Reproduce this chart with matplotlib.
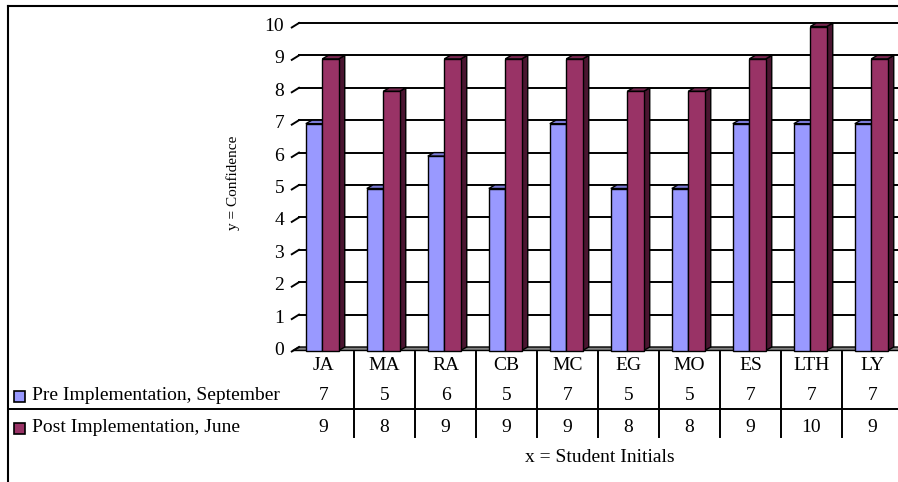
import matplotlib
matplotlib.use("Agg")
import matplotlib.pyplot as plt
from matplotlib import transforms
from matplotlib.patches import Polygon, Rectangle
from matplotlib.lines import Line2D

# ---- data ---------------------------------------------------------------
students = ["JA", "MA", "RA", "CB", "MC", "EG", "MO", "ES", "LTH", "LY"]
pre_september = [7, 5, 6, 5, 7, 5, 5, 7, 7, 7]
post_june = [9, 8, 9, 9, 9, 8, 8, 9, 10, 9]
series_names = ["Pre Implementation, September", "Post Implementation, June"]
y_ticks = list(range(0, 11))

# ---- style --------------------------------------------------------------
FONT = "Liberation Serif"
FS = 14
W, H = 898, 482
face_colors = [("#9999FF", "#7B7BD6", "#4D4D99"),   # front, top, side
               ("#993366", "#7A2952", "#4A1530")]

fig = plt.figure(figsize=(W / 100, H / 100), dpi=100)
fig.patch.set_facecolor("white")

# pixel transform with origin at the top-left corner of the figure
px = transforms.Affine2D().scale(1 / W, -1 / H).translate(0, 1) + fig.transFigure

# plot area (front plane): x = category index, y = confidence value
left_px, right_px = 293, 903
y0_px, y10_px = 350.5, 26.5
ax = fig.add_axes([left_px / W, (H - y0_px) / H,
                   (right_px - left_px) / W, (y0_px - y10_px) / H])
n = len(students)
ax.set_xlim(-0.5, n - 0.5)
ax.set_ylim(0, 10)
ax.axis("off")

cat_px = (right_px - left_px) / n
val_px = (y0_px - y10_px) / 10
dxd = 6.0 / cat_px      # depth offset, in data units
dyd = 3.5 / val_px

# back-wall gridlines and left-wall edges
for v in y_ticks[1:]:
    ax.add_line(Line2D([-0.5 + dxd, n + 1], [v + dyd, v + dyd], color="black",
                       lw=1.4, clip_on=False, zorder=1))
    ax.add_line(Line2D([-0.5 - 0.02, -0.5 + dxd], [v - 0.03, v + dyd],
                       color="black", lw=1.4, clip_on=False, zorder=1))

# floor
ax.add_patch(Polygon([(-0.5, 0), (n + 1, 0), (n + 1 + dxd, dyd), (-0.5 + dxd, dyd)],
                     closed=True, facecolor="#808080", edgecolor="black",
                     lw=1.0, clip_on=False, zorder=1))
ax.add_line(Line2D([-0.5 - 0.02, -0.5 + dxd], [-0.03, dyd], color="black",
                   lw=1.4, clip_on=False, zorder=1))

# y tick labels
tick_tr = transforms.offset_copy(ax.transData, fig=fig, x=-9, y=0, units="dots")
for v in y_ticks:
    ax.text(-0.5, v, str(v), transform=tick_tr, ha="right", va="center",
            fontsize=FS, family=FONT, clip_on=False)

# 3-D columns
bar_w = 0.27
offsets = [-0.29, -0.02]


def column(x0, h, colors, z):
    front, top, side = colors
    x1 = x0 + bar_w
    ax.add_patch(Polygon([(x1, 0), (x1 + dxd, dyd), (x1 + dxd, h + dyd), (x1, h)],
                         closed=True, facecolor=side, edgecolor="black",
                         lw=1.0, clip_on=False, zorder=z))
    ax.add_patch(Polygon([(x0, h), (x1, h), (x1 + dxd, h + dyd), (x0 + dxd, h + dyd)],
                         closed=True, facecolor=top, edgecolor="black",
                         lw=1.0, clip_on=False, zorder=z))
    ax.add_patch(Rectangle((x0, 0), bar_w, h, facecolor=front, edgecolor="black",
                           lw=1.0, clip_on=False, zorder=z))


for i in range(n):
    for k, values in enumerate([pre_september, post_june]):
        column(i + offsets[k], values[i], face_colors[k], 2 + 0.1 * i + 0.01 * k)

# y axis title
fig.text(233 / W, 1 - 183 / H, "y = Confidence", rotation=90, ha="center",
         va="center", fontsize=11, family=FONT)

# ---- data table ---------------------------------------------------------
tbl = transforms.blended_transform_factory(ax.transData, px)
row_y = [366, 396, 428]
for i, name in enumerate(students):
    ax.text(i, row_y[0], name, transform=tbl, ha="center", va="center",
            fontsize=FS, family=FONT, clip_on=False)
    ax.text(i, row_y[1], str(pre_september[i]), transform=tbl, ha="center",
            va="center", fontsize=FS, family=FONT, clip_on=False)
    ax.text(i, row_y[2], str(post_june[i]), transform=tbl, ha="center",
            va="center", fontsize=FS, family=FONT, clip_on=False)
for i in range(n):
    ax.add_line(Line2D([i + 0.5, i + 0.5], [352, 437], transform=tbl,
                       color="black", lw=1.4, clip_on=False))
fig.add_artist(Line2D([8, W], [409, 409], transform=px, color="black", lw=1.4))

# legend keys in the table rows
for k, name in enumerate(series_names):
    yc = row_y[k + 1]
    fig.add_artist(Rectangle((14, yc - 5.5), 11, 11, transform=px,
                             facecolor=face_colors[k][0], edgecolor="black", lw=1.2))
    fig.text(32 / W, 1 - yc / H, name, ha="left", va="center",
             fontsize=FS, family=FONT)

# x axis title
fig.text(600 / W, 1 - 458 / H, "x = Student Initials", ha="center", va="center",
         fontsize=FS, family=FONT)

# chart frame
fig.add_artist(Line2D([8, 8], [6, H + 2], transform=px, color="black", lw=1.5))
fig.add_artist(Line2D([8, W + 2], [6, 6], transform=px, color="black", lw=1.5))

fig.savefig("out.png", dpi=100)
